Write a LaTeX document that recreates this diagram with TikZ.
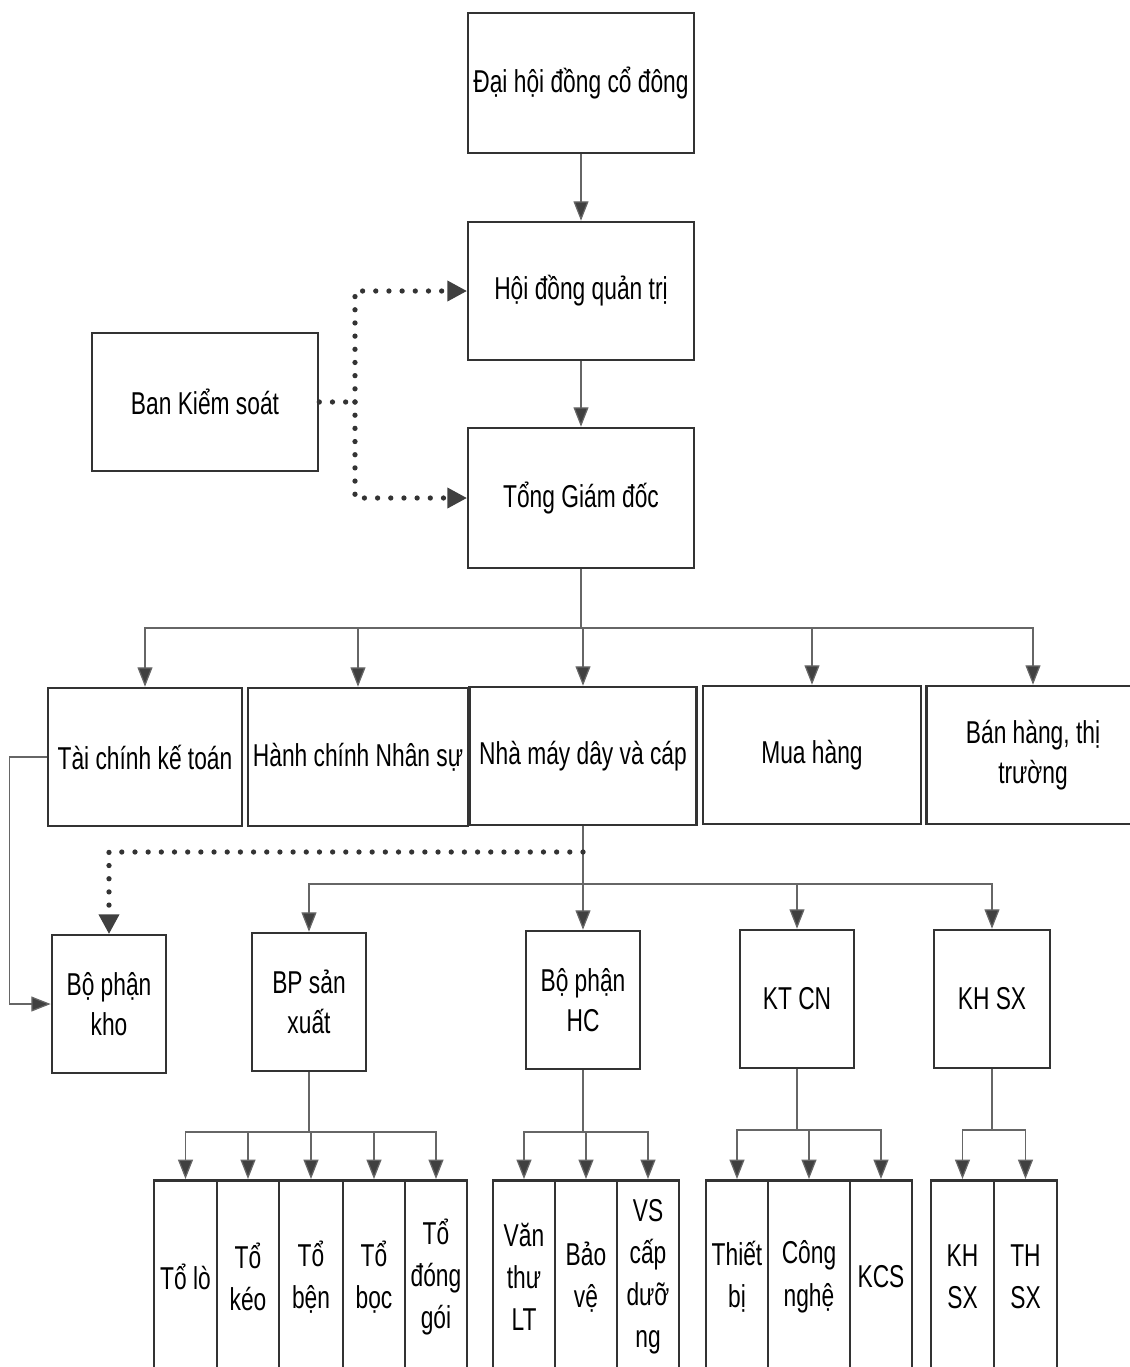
\documentclass[tikz,border=0pt]{standalone}
\usepackage{fontspec}
\setmainfont{Liberation Sans}[FakeStretch=0.72]
\usetikzlibrary{arrows.meta}

\begin{document}
\begin{tikzpicture}[x=0.02cm,y=-0.02cm,
	box/.style={draw=black!80,line width=1.5pt,align=center,inner sep=2pt,font=\fontsize{18}{23}\selectfont},
	tall/.style={box,minimum height=2.76cm},
	unit/.style={box,anchor=north,minimum height=3.86cm,font=\fontsize{18}{24}\selectfont},
	link/.style={draw=black!60,line width=0.7pt},
	arr/.style={link,-{Triangle[length=11pt,width=8.5pt,fill=black!75]}},
	dotline/.style={draw=black!80,line width=3pt,line cap=round,dash pattern=on 0pt off 7.5pt},
	dots/.style={dotline,-{Triangle[length=11pt,width=12pt,line width=0pt,fill=black!75]}},
]
\useasboundingbox (0,0) rectangle (1130,1367);
\clip (0,0) rectangle (1130,1367);

% top
\node[box,minimum width=4.52cm,minimum height=2.8cm] (dhcd) at (581,83) {Đại hội đồng cổ đông};
\node[tall,minimum width=4.52cm] (hdqt) at (581,291) {Hội đồng quản trị};
\node[box,minimum width=4.52cm,minimum height=2.8cm] (tgd) at (581,498) {Tổng Giám đốc};
\node[tall,minimum width=4.52cm] (bks) at (205,402) {Ban Kiểm soát};

% phong ban
\node[tall,minimum width=3.88cm] (tckt) at (145,757) {Tài chính kế toán};
\node[tall,minimum width=4.4cm] (hcns) at (358,757) {Hành chính Nhân sự};
\node[tall,minimum width=4.54cm] (nmdc) at (583,756) {Nhà máy dây và cáp};
\node[tall,minimum width=4.36cm] (mua) at (812,755) {Mua hàng};
\node[tall,minimum width=4.26cm] (banhang) at (1033,755) {Bán hàng, thị\\trường};

% bo phan
\node[tall,minimum width=2.28cm] (kho) at (109,1004) {Bộ phận\\kho};
\node[tall,minimum width=2.28cm] (bpsx) at (309,1002) {BP sản\\xuất};
\node[tall,minimum width=2.28cm] (bphc) at (583,1000) {Bộ phận\\HC};
\node[tall,minimum width=2.28cm] (ktcn) at (797,999) {KT CN};
\node[tall,minimum width=2.32cm] (khsx) at (992,999) {KH SX};

% to
\node[unit,minimum width=1.26cm] (to1) at (185.5,1179) {Tổ lò};
\node[unit,minimum width=1.24cm] (to2) at (248,1179) {Tổ\\kéo};
\node[unit,minimum width=1.28cm] (to3) at (311,1179) {Tổ\\bện};
\node[unit,minimum width=1.24cm] (to4) at (374,1179) {Tổ\\bọc};
\node[unit,minimum width=1.24cm] (to5) at (436,1179) {Tổ\\đóng\\gói};
\node[unit,minimum width=1.24cm] (vt) at (524,1179) {Văn\\thư\\LT};
\node[unit,minimum width=1.24cm] (bv) at (586,1179) {Bảo\\vệ};
\node[unit,minimum width=1.24cm] (vs) at (648,1179) {VS\\cấp\\dưỡ\\ng};
\node[unit,minimum width=1.24cm] (tb) at (737,1179) {Thiết\\bị};
\node[unit,minimum width=1.64cm] (cn) at (809,1179) {Công\\nghệ};
\node[unit,minimum width=1.24cm] (kcs) at (881,1179) {KCS};
\node[unit,minimum width=1.26cm] (kh) at (962.5,1179) {KH\\SX};
\node[unit,minimum width=1.26cm] (th) at (1025.5,1179) {TH\\SX};

% connectors
\draw[arr] (dhcd) -- (hdqt);
\draw[arr] (hdqt) -- (tgd);
\coordinate (bksj) at (355,402);
\draw[dotline] (bks.east) -- (bksj);
\draw[dots] (bksj) |- (hdqt.west);
\draw[dots] (bksj) |- (tgd.west);

\coordinate (bus1) at (tgd.south |- 0,628);
\draw[link] (tgd.south) -- (bus1);
\foreach \n in {tckt,hcns,nmdc,mua,banhang}
	\draw[arr] (bus1) -| (\n.north);

\coordinate (bus2) at (nmdc.south |- 0,884);
\draw[link] (nmdc.south) -- (bus2);
\foreach \n in {bpsx,bphc,ktcn,khsx}
	\draw[arr] (bus2) -| (\n.north);
\coordinate (dotj) at (nmdc.south |- 0,852);
\draw[dots] (dotj) -| (kho.north);
\draw[arr] (tckt.west) -- ++(-37,0) |- (kho.west);

\coordinate (bus3) at (bpsx.south |- 0,1132);
\draw[link] (bpsx.south) -- (bus3);
\foreach \n in {to1,to2,to3,to4,to5}
	\draw[arr] (bus3) -| (\n.north);
\coordinate (bus4) at (bphc.south |- 0,1132);
\draw[link] (bphc.south) -- (bus4);
\foreach \n in {vt,bv,vs}
	\draw[arr] (bus4) -| (\n.north);
\coordinate (bus5) at (ktcn.south |- 0,1130);
\draw[link] (ktcn.south) -- (bus5);
\foreach \n in {tb,cn,kcs}
	\draw[arr] (bus5) -| (\n.north);
\coordinate (bus6) at (khsx.south |- 0,1130);
\draw[link] (khsx.south) -- (bus6);
\foreach \n in {kh,th}
	\draw[arr] (bus6) -| (\n.north);
\end{tikzpicture}
\end{document}
